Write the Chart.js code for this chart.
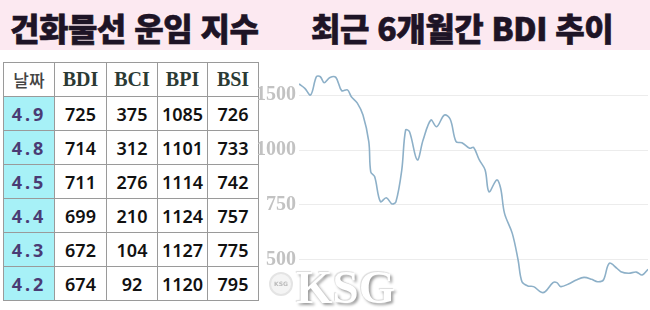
<!DOCTYPE html>
<html lang="ko">
<head>
<meta charset="utf-8">
<script src="https://cdn.jsdelivr.net/npm/chart.js@4"></script>
<style>
    body { margin: 0; width: 650px; height: 310px; overflow: hidden; background: #fff; position: relative; }
    #titulo { position: absolute; left: 0; top: 0; width: 650px; height: 50px; background: #fce9f1; }
    #titulo span { position: absolute; top: 4px; font-family: "Noto Sans CJK KR"; font-weight: 900; font-size: 32px; color: #1e1426; letter-spacing: -0.5px; white-space: nowrap; -webkit-text-stroke: 0.6px #1e1426; }
    #tabela { position: absolute; left: 3px; top: 62px; border-collapse: collapse; }
    #tabela td, #tabela th { border: 1px solid #9a9a9a; padding: 0; text-align: center; height: 33px; }
    #tabela th { font-family: "Liberation Serif"; font-weight: bold; font-size: 20px; color: #2b3a34; }
    #tabela th.data { font-family: "Noto Sans CJK KR"; font-weight: 500; font-size: 17px; color: #444; }
    #tabela td { font-family: "Noto Sans"; font-weight: 600; font-size: 18px; color: #111; }
    #tabela td.data { background: #a7f1f7; color: #4a3b74; font-weight: bold; letter-spacing: 3px; font-size: 18px; }
    #caixa { position: absolute; left: 258px; top: 56px; width: 392px; height: 254px; }
    #marca { position: absolute; left: 296px; top: 260px; font-family: "Liberation Serif"; font-weight: bold; font-size: 47px; color: #fff; text-shadow: 2px 2px 3px #9a9a9a, -1px -1px 1px #ddd; }
    #logo { position: absolute; left: 269px; top: 272px; width: 20px; height: 20px; border-radius: 50%; border: 2px solid #e4e4e4; background: #f4f4f4; font: bold 6px "DejaVu Sans"; color: #bbb; text-align: center; line-height: 20px; }
</style>
</head>
<body>
<div id="titulo"><span style="left:10px">건화물선 운임 지수</span><span style="left:311px">최근 6개월간 BDI 추이</span></div>
<table id="tabela"></table>
<div id="caixa"><canvas id="grafico"></canvas></div>
<div id="logo">KSG</div>
<div id="marca">KSG</div>
<script>
// tabela
const colunas = ['날짜', 'BDI', 'BCI', 'BPI', 'BSI'];
const datas = ['4.9', '4.8', '4.5', '4.4', '4.3', '4.2'];
const bdi = [725, 714, 711, 699, 672, 674];
const bci = [375, 312, 276, 210, 104, 92];
const bpi = [1085, 1101, 1114, 1124, 1127, 1120];
const bsi = [726, 733, 742, 757, 775, 795];
const larguras = [50, 51, 50, 49, 50];

// grafico (dias desde o inicio, valor lido no eixo)
const dias = [0, 3, 6, 9, 11, 13, 16, 19, 22, 25, 27, 30, 33, 36, 37, 39, 42, 45, 48, 50,
    53, 55, 57, 61, 64, 68, 71, 75, 78, 81, 84, 88, 90, 93, 96, 98, 102, 104, 106, 110,
    113, 115, 118, 121, 125, 127, 131, 133, 135, 139, 143, 147, 151, 154, 157, 160, 164, 166, 170, 174, 177, 180];
const indice = [1300, 1280, 1250, 1333, 1333, 1306, 1330, 1330, 1270, 1273, 1242, 1214, 1159, 1038, 901, 879, 765, 783, 755, 765,
    909, 1091, 1083, 955, 1045, 1136, 1106, 1159, 1140, 1038, 1033, 1008, 1012, 955, 909, 810, 864, 826, 712, 621,
    500, 401, 382, 379, 353, 356, 397, 397, 379, 391, 409, 421, 412, 401, 409, 485, 462, 447, 440, 445, 432, 458];
const valoresTicks = [500, 750, 1000, 1250];
const rotulosTicks = ['500', '750', '1000', '1500'];

function montarTabela() {
    const tabela = document.getElementById('tabela');
    let html = '<tr>' + colunas.map((c, i) =>
        `<th class="${i === 0 ? 'data' : ''}" style="width:${larguras[i]}px">${c}</th>`).join('') + '</tr>';
    datas.forEach((d, i) => {
        html += `<tr><td class="data">${d}</td><td>${bdi[i]}</td><td>${bci[i]}</td><td>${bpi[i]}</td><td>${bsi[i]}</td></tr>`;
    });
    tabela.innerHTML = html;
}

function plotar() {
    const ctx = document.getElementById('grafico').getContext('2d');
    new Chart(ctx, {
        type: 'line',
        data: {
            datasets: [{
                data: dias.map((d, i) => ({ x: d, y: indice[i] })),
                borderColor: '#8db0c8',
                borderWidth: 1.6,
                fill: false,
                tension: 0.35,
                pointRadius: 0
            }]
        },
        options: {
            animation: false,
            responsive: true,
            maintainAspectRatio: false,
            layout: { padding: { top: 6, bottom: 6, right: 2 } },
            plugins: { legend: { display: false }, tooltip: { enabled: false } },
            scales: {
                x: { type: 'linear', min: 0, max: 180, display: false },
                y: {
                    min: 300,
                    max: 1400,
                    afterBuildTicks: (s) => { s.ticks = valoresTicks.map(v => ({ value: v })); },
                    afterFit: (s) => { s.width = 41; s.paddingTop = 0; s.paddingBottom = 0; },
                    border: { display: false },
                    grid: { color: '#ececec', drawTicks: false },
                    ticks: {
                        padding: 3,
                        color: '#c2c2c2',
                        font: { family: 'Liberation Sans Narrow', weight: 'bold', size: 20 },
                        callback: (v, i) => rotulosTicks[i]
                    }
                }
            }
        }
    });
}

function main() {
    montarTabela();
    plotar();
}

window.addEventListener('DOMContentLoaded', main);
</script>
</body>
</html>
